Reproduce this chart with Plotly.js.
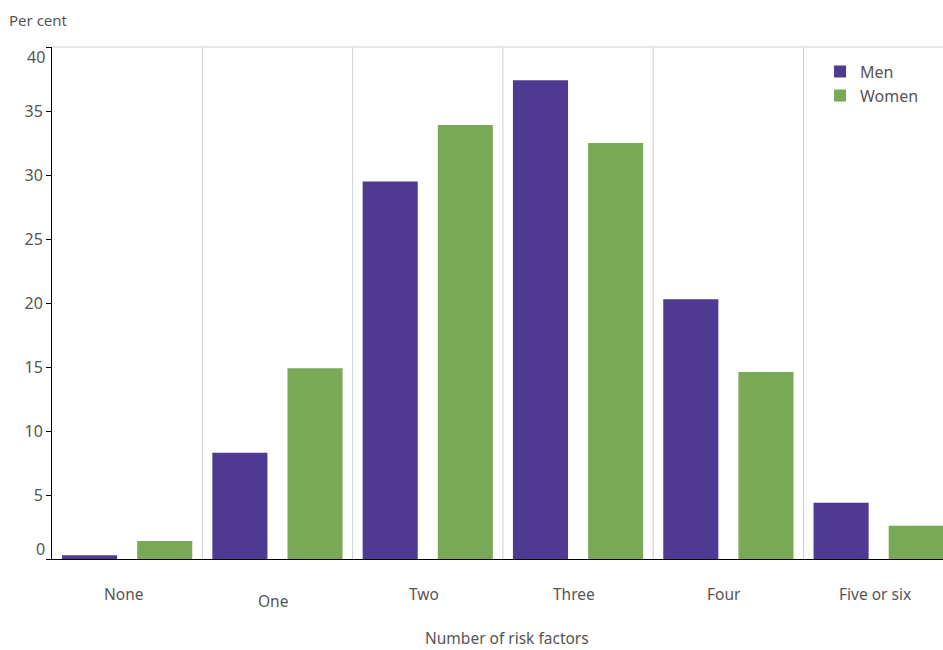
<!DOCTYPE html>
<html>
<head>
<meta charset="utf-8">
<script src="https://cdn.plot.ly/plotly-3.0.1.min.js"></script>
<style>html,body{margin:0;padding:0;background:#fff;}#chart{width:943px;height:650px;}</style>
</head>
<body>
<div id="chart"></div>
<script>
const categories = ["None", "One", "Two", "Three", "Four", "Five or six"];
const menValues = [0.3, 8.3, 29.5, 37.4, 20.3, 4.4];
const womenValues = [1.4, 14.9, 33.9, 32.5, 14.6, 2.6];
const yTickValues = [0, 5, 10, 15, 20, 25, 30, 35, 40];
const seriesNames = ["Men", "Women"];

const FONT = "Noto Sans, Open Sans, sans-serif";
const TEXT = "#555555";
const idx = categories.map((c, i) => i);

const traces = [
  {type: "bar", name: seriesNames[0], x: idx, y: menValues, marker: {color: "#4e3a92"}, hoverinfo: "none"},
  {type: "bar", name: seriesNames[1], x: idx, y: womenValues, marker: {color: "#79a856"}, hoverinfo: "none"}
];

const shapes = [];
for (let i = 0; i < categories.length - 1; i++) {
  shapes.push({type: "line", xref: "x", yref: "paper", x0: i + 0.5, x1: i + 0.5, y0: 0, y1: 1,
    line: {color: "#d0d0d0", width: 1}, layer: "below"});
}
shapes.push({type: "line", xref: "paper", yref: "paper", x0: 0, x1: 1, y0: 1, y1: 1,
  line: {color: "#d0d0d0", width: 1}, layer: "below"});

const annotations = [];
categories.forEach((c, i) => {
  annotations.push({xref: "x", yref: "paper", x: i, y: 0, yanchor: "top", showarrow: false,
    text: c, font: {family: FONT, size: 15.5, color: TEXT}, xshift: -4, yshift: i === 1 ? -29 : -22});
});
// end tick labels are drawn inward, as in the reference
const yMin = yTickValues[0], yMax = yTickValues[yTickValues.length - 1];
[yMin, yMax].forEach(v => {
  annotations.push({xref: "paper", yref: "y", x: 0, y: v, xanchor: "right", showarrow: false,
    text: String(v), font: {family: FONT, size: 16, color: TEXT}, xshift: -5, yshift: v === yMin ? 10 : -10});
});
annotations.push({xref: "paper", yref: "paper", x: -0.051, y: 1, xanchor: "left", yanchor: "bottom",
  showarrow: false, text: "Per cent", font: {family: FONT, size: 15, color: TEXT}, yshift: 15});
annotations.push({xref: "paper", yref: "paper", x: 0.511, y: 0, xanchor: "center", yanchor: "top",
  showarrow: false, text: "Number of risk factors", font: {family: FONT, size: 15.5, color: TEXT}, yshift: -66});

const layout = {
  width: 943, height: 650,
  margin: {l: 52, r: 0, t: 47, b: 91, pad: 0},
  paper_bgcolor: "#fff", plot_bgcolor: "#fff",
  barmode: "group", bargap: 0, bargroupgap: 0.267,
  showlegend: true,
  legend: {x: 0.862, y: 0.985, xanchor: "left", yanchor: "top", bgcolor: "rgba(0,0,0,0)",
    font: {family: FONT, size: 16, color: TEXT}, tracegroupgap: 0, itemwidth: 30},
  xaxis: {range: [-0.5, 5.428], showticklabels: false, ticks: "", showgrid: false, zeroline: false,
    showline: true, linecolor: "#000", linewidth: 1, fixedrange: true},
  yaxis: {range: [yMin, yMax], tickvals: yTickValues,
    ticktext: yTickValues.map(v => (v === yMin || v === yMax) ? "" : String(v)),
    ticks: "outside", ticklen: 5, tickcolor: "#000", showgrid: false, zeroline: false,
    showline: true, linecolor: "#000", linewidth: 1,
    tickfont: {family: FONT, size: 16, color: TEXT}, fixedrange: true},
  shapes: shapes,
  annotations: annotations
};

Plotly.newPlot("chart", traces, layout, {displayModeBar: false, staticPlot: true});
</script>
</body>
</html>
